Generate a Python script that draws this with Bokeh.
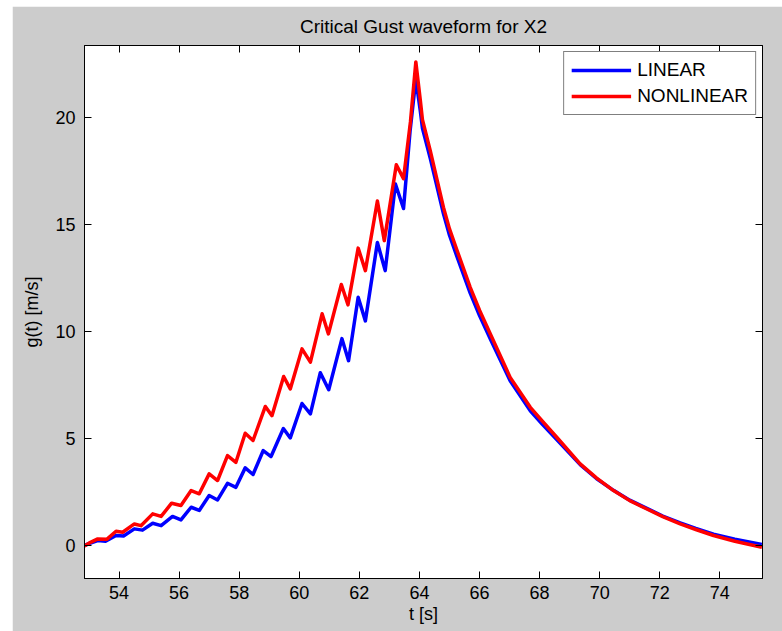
from bokeh.plotting import figure
from bokeh.models import LinearAxis, FixedTicker, Legend, LegendItem, Range1d
from bokeh.embed import file_html
from bokeh.resources import INLINE

title_text = "Critical Gust waveform for X2"
x_label = "t [s]"
y_label = "g(t) [m/s]"
series_names = ["LINEAR", "NONLINEAR"]
x_ticks = [54, 56, 58, 60, 62, 64, 66, 68, 70, 72, 74]
y_ticks = [0, 5, 10, 15, 20]

t_linear = [52.85, 53.05, 53.29, 53.55, 53.9, 54.15, 54.51, 54.78, 55.12, 55.40,
            55.78, 56.06, 56.40, 56.67, 57.0, 57.28, 57.61, 57.89, 58.2, 58.46,
            58.80, 59.06, 59.47, 59.70, 60.09, 60.37, 60.70, 60.98, 61.42, 61.64,
            61.96, 62.2, 62.6, 62.86, 63.2, 63.47, 63.69, 63.88, 64.03, 64.1, 64.36,
            64.8, 65.0, 65.25, 65.69, 66.0, 66.36, 67.02, 67.69, 68.1, 68.57, 69.35,
            69.9, 70.46, 71.0, 71.57, 72.1, 72.68, 73.2, 73.79, 74.5, 75.4]
g_linear = [0.0, 0.12, 0.23, 0.2, 0.47, 0.45, 0.78, 0.72, 1.04, 0.93,
            1.36, 1.20, 1.79, 1.64, 2.34, 2.13, 2.91, 2.72, 3.63, 3.32,
            4.44, 4.16, 5.47, 5.03, 6.64, 6.15, 8.08, 7.28, 9.67, 8.64,
            11.6, 10.5, 14.16, 12.85, 16.9, 15.75, 19.4, 21.8, 20.3, 19.5, 18.1,
            15.5, 14.5, 13.5, 11.8, 10.75, 9.65, 7.7, 6.3, 5.65, 4.95, 3.78,
            3.12, 2.58, 2.12, 1.74, 1.38, 1.06, 0.8, 0.53, 0.3, 0.05]

t_nonlinear = [52.85, 53.05, 53.29, 53.6, 53.9, 54.12, 54.51, 54.73, 55.12, 55.40,
               55.75, 56.06, 56.40, 56.67, 57.0, 57.28, 57.61, 57.89, 58.2, 58.46,
               58.87, 59.09, 59.48, 59.70, 60.09, 60.37, 60.76, 60.97, 61.4, 61.62,
               61.96, 62.2, 62.6, 62.83, 63.23, 63.47, 63.7, 63.88, 64.03, 64.1, 64.36,
               64.8, 65.0, 65.25, 65.69, 66.0, 66.36, 67.02, 67.69, 68.1, 68.57, 69.35,
               69.9, 70.46, 71.0, 71.57, 72.1, 72.68, 73.2, 73.79, 74.5, 75.4]
g_nonlinear = [-0.02, 0.15, 0.31, 0.3, 0.67, 0.62, 1.01, 0.93, 1.48, 1.36,
               1.98, 1.87, 2.57, 2.42, 3.35, 3.04, 4.2, 3.89, 5.25, 4.91,
               6.50, 6.07, 7.90, 7.32, 9.19, 8.57, 10.83, 9.89, 12.2, 11.25,
               13.9, 12.85, 16.1, 14.25, 17.8, 17.15, 19.8, 22.6, 20.8, 19.9, 18.46,
               15.8, 14.8, 13.8, 12.07, 11.0, 9.89, 7.86, 6.46, 5.8, 5.06, 3.82,
               3.15, 2.57, 2.1, 1.71, 1.35, 1.01, 0.75, 0.47, 0.2, -0.08]

FONT = "Liberation Sans"
GRAY = "#cccccc"

p = figure(width=770, height=625, output_backend="svg", toolbar_location=None,
           x_range=Range1d(52.85, 75.42), y_range=Range1d(-1.54, 23.37),
           min_border_left=72, min_border_right=20, min_border_top=39, min_border_bottom=53,
           background_fill_color="white", border_fill_color=GRAY,
           outline_line_color="black", outline_line_width=1,
           title=title_text)
p.margin = (6, 0, 0, 12)
p.grid.visible = False

p.title.text_font = FONT
p.title.text_font_size = "19px"
p.title.text_font_style = "normal"
p.title.text_color = "black"
p.title.align = "center"
p.title.vertical_align = "top"
p.title.text_line_height = 0.9
p.title.standoff = 14

def style_axis(ax, ticks, show_labels):
    ax.ticker = FixedTicker(ticks=ticks)
    ax.axis_line_color = "black"
    ax.major_tick_line_color = "black"
    ax.major_tick_in = 7
    ax.major_tick_out = 0
    ax.minor_tick_line_color = None
    ax.major_label_text_font = FONT
    ax.major_label_text_font_size = "18px"
    ax.major_label_text_color = "black"
    ax.axis_label_text_font = FONT
    ax.axis_label_text_font_size = "18px"
    ax.axis_label_text_font_style = "normal"
    ax.axis_label_text_color = "black"
    if not show_labels:
        ax.major_label_overrides = {t: "" for t in ticks}
        ax.major_label_standoff = 0

style_axis(p.xaxis[0], x_ticks, True)
style_axis(p.yaxis[0], y_ticks, True)
p.xaxis[0].axis_label = x_label
p.yaxis[0].axis_label = y_label
p.xaxis[0].major_label_standoff = 7
p.xaxis[0].axis_label_standoff = 2
p.yaxis[0].major_label_standoff = 9
p.yaxis[0].axis_label_standoff = 10

top_ax = LinearAxis()
right_ax = LinearAxis()
style_axis(top_ax, x_ticks, False)
style_axis(right_ax, y_ticks, False)
p.add_layout(top_ax, "above")
p.add_layout(right_ax, "right")

r_lin = p.line(t_linear, g_linear, line_color="#0000ff", line_width=3.5, line_join="round")
r_non = p.line(t_nonlinear, g_nonlinear, line_color="#ff0000", line_width=3.5, line_join="round")

legend = Legend(items=[LegendItem(label=series_names[0], renderers=[r_lin]),
                       LegendItem(label=series_names[1], renderers=[r_non])],
                location="top_right")
legend.label_text_font = FONT
legend.label_text_font_size = "19px"
legend.label_text_color = "black"
legend.glyph_width = 60
legend.label_standoff = 6
legend.padding = 7
legend.spacing = 4
legend.margin = 6
legend.border_line_color = "black"
legend.border_line_width = 1
legend.background_fill_color = "white"
legend.background_fill_alpha = 1.0
p.add_layout(legend, "center")

open("out.html", "w").write(file_html(p, INLINE))
